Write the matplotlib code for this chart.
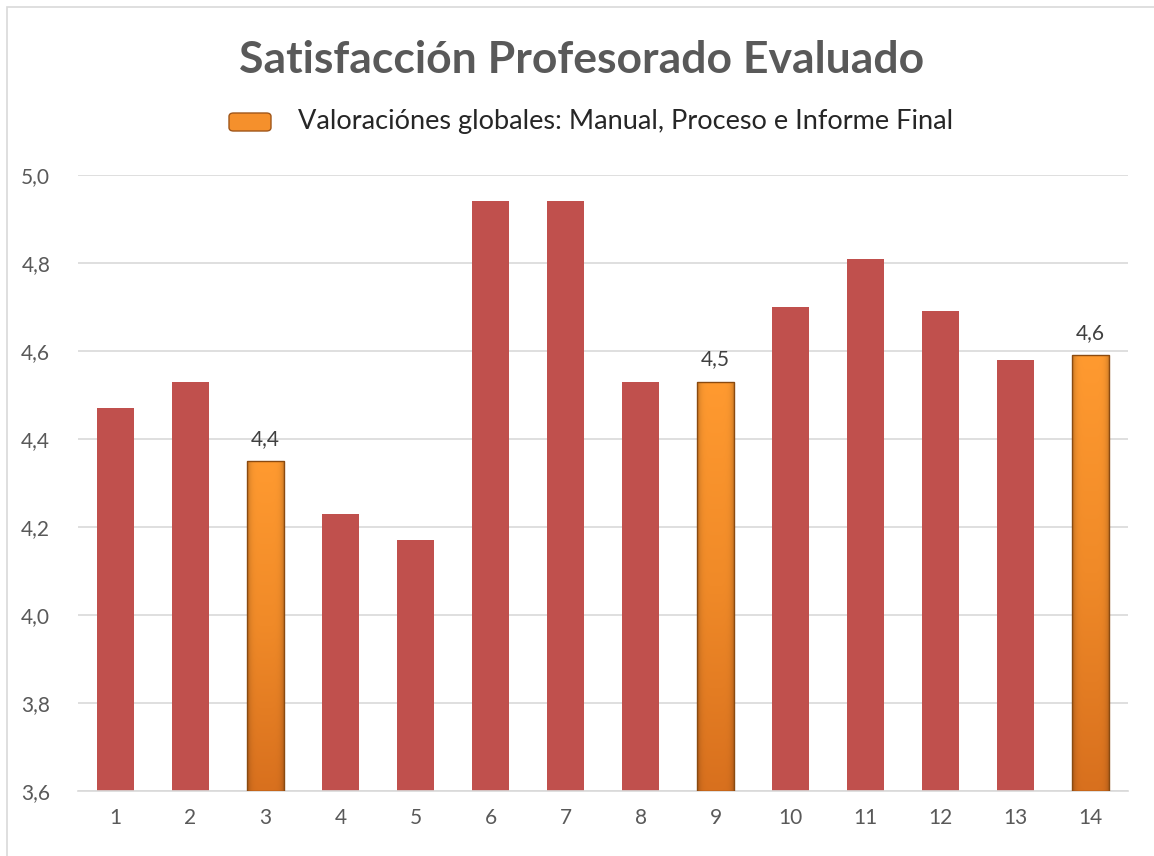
import numpy as np
import matplotlib.pyplot as plt
from matplotlib.patches import Rectangle, FancyBboxPatch
from matplotlib.colors import LinearSegmentedColormap

plt.rcParams['font.family'] = ['Lato', 'DejaVu Sans']

# data
grupos = list(range(1, 15))
valores = [4.47, 4.53, 4.35, 4.23, 4.17, 4.94, 4.94, 4.53, 4.53, 4.70, 4.81, 4.69, 4.58, 4.59]
globales = [3, 9, 14]
etiquetas = {3: "4,4", 9: "4,5", 14: "4,6"}

rojo = "#C0504D"
gris = "#595959"
naranja = LinearSegmentedColormap.from_list("nar", ["#FF9A30", "#F08A28", "#D8701E"])

fig = plt.figure(figsize=(11.54, 8.56), dpi=100)
ax = fig.add_axes([78 / 1154, 1 - 791 / 856, 1050 / 1154, 616 / 856])

# frame around the chart area
fig.patches.append(Rectangle((7 / 1154, -0.01), 1.1, 1 - 7 / 856 + 0.01, transform=fig.transFigure,
                             fill=False, edgecolor="#D9D9D9", linewidth=1.2))

ymin = 3.6
for g, v in zip(grupos, valores):
    if g in globales:
        continue
    ax.bar(g, v - ymin, bottom=ymin, width=0.5, color=rojo, zorder=2)

# orange gradient bars
grad = np.linspace(0, 1, 256).reshape(-1, 1)
side = 1 - 0.25 * np.abs(np.linspace(-1, 1, 64)) ** 6
for g in globales:
    v = valores[g - 1]
    x0, x1 = g - 0.25, g + 0.25
    img = naranja(np.repeat(grad, 64, axis=1))
    img[..., :3] *= side[None, :, None]
    im = ax.imshow(img, extent=[x0, x1, ymin, v], origin="upper", aspect="auto", zorder=3)
    r = Rectangle((x0, ymin), 0.5, v - ymin, facecolor="none", edgecolor="#8A4A10",
                  linewidth=1.0, zorder=4)
    ax.add_patch(r)
    im.set_clip_path(r)
    ax.text(g, v + 0.028, etiquetas[g], ha="center", va="bottom", fontsize=15, color="#404040")

ax.set_xlim(0.5, 14.5)
ax.set_ylim(3.6, 5.0)
ax.set_yticks(np.arange(3.6, 5.01, 0.2))
ax.set_yticklabels([f"{t:.1f}".replace(".", ",") for t in np.arange(3.6, 5.01, 0.2)])
ax.set_xticks(grupos)
ax.set_xticklabels([str(g) for g in grupos])
ax.tick_params(axis="both", length=0, labelsize=15, labelcolor=gris, pad=12)
ax.tick_params(axis="y", pad=20)
ax.grid(axis="y", color="#D9D9D9", linewidth=1.2, zorder=0)
ax.set_axisbelow(True)
for s in ["top", "right", "left"]:
    ax.spines[s].set_visible(False)
ax.spines["bottom"].set_color("#D9D9D9")
ax.spines["bottom"].set_linewidth(1.2)

fig.text(582 / 1154, 1 - 60 / 856, "Satisfacción Profesorado Evaluado", ha="center", va="center",
         fontsize=32, fontweight="bold", color=gris)

# legend
lg = FancyBboxPatch((229 / 1154, 1 - 131 / 856), 42 / 1154, 18 / 856, transform=fig.transFigure,
                    boxstyle="round,pad=0,rounding_size=0.004", facecolor="#F5902C",
                    edgecolor="#A0561A", linewidth=1.0)
fig.patches.append(lg)
fig.text(298 / 1154, 1 - 121 / 856, "Valoraciónes globales: Manual, Proceso e Informe Final",
         ha="left", va="center", fontsize=19.5, color="#262626")

fig.savefig("out.png", dpi=100)
